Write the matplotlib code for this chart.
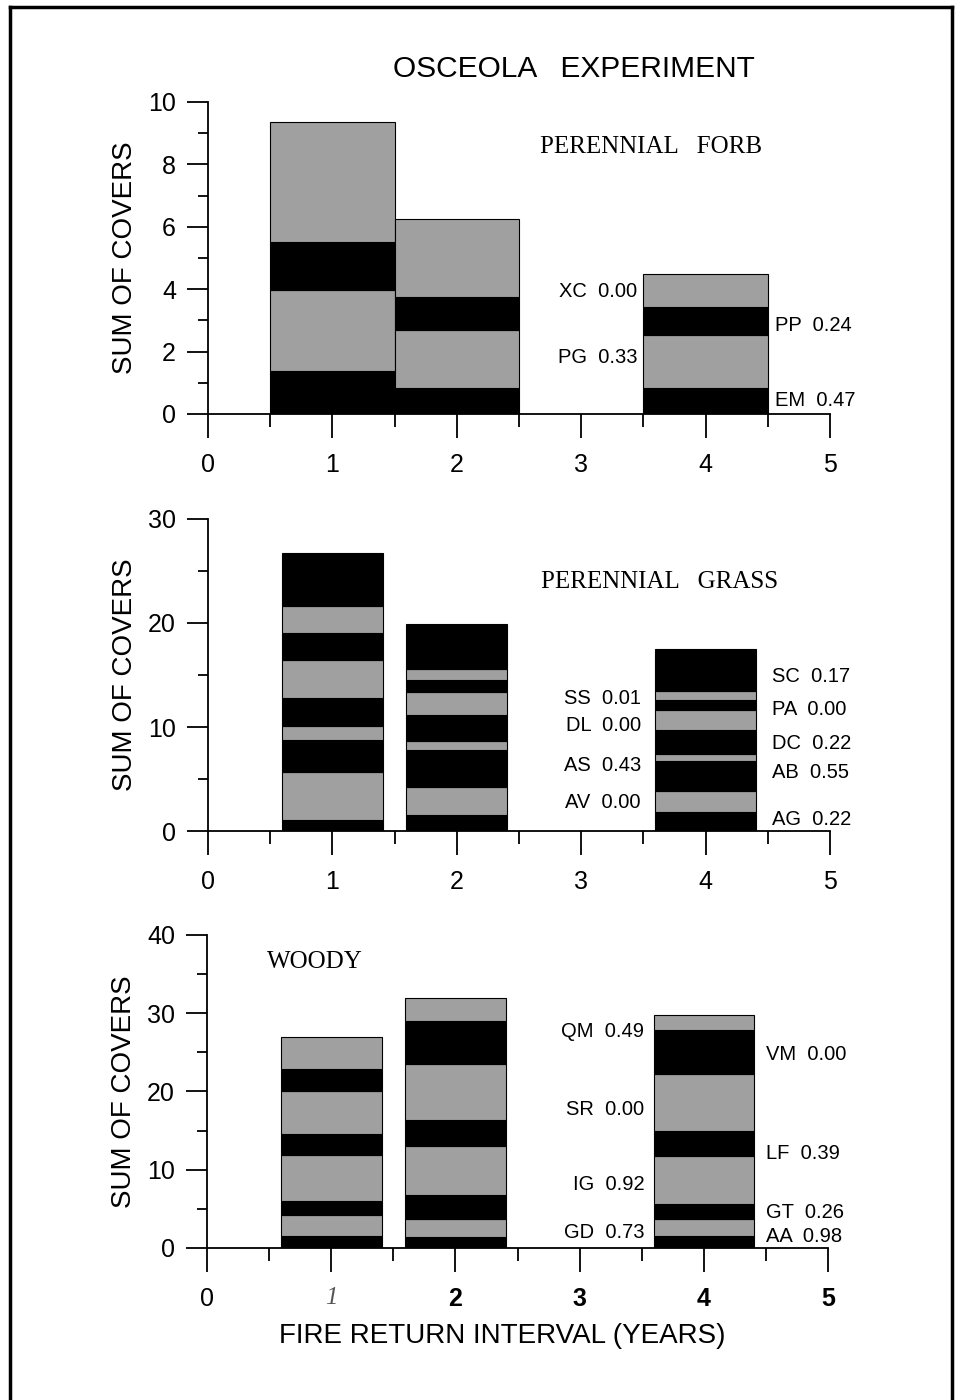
import matplotlib.pyplot as plt
from matplotlib.lines import Line2D
from matplotlib.ticker import MultipleLocator

# Годы (интервал между пожарами), для которых есть столбцы
years = [1, 2, 4]

# PERENNIAL FORB: сегменты снизу вверх для каждого года
forb_species = ['EM', 'PG', 'PP', 'XC']
forb_p = ['0.47', '0.33', '0.24', '0.00']
forb_covers = [
    [1.39, 2.59, 1.54, 3.85],   # 1 год
    [0.82, 1.86, 1.07, 2.51],   # 2 года
    [0.82, 1.70, 0.91, 1.06],   # 4 года
]

# PERENNIAL GRASS
grass_species = ['AG', 'AV', 'AB', 'AS', 'DC', 'DL', 'PA', 'SS', 'SC']
grass_p = ['0.22', '0.00', '0.55', '0.43', '0.22', '0.00', '0.00', '0.01', '0.17']
grass_covers = [
    [1.05, 4.63, 3.03, 1.38, 2.74, 3.57, 2.65, 2.55, 5.15],
    [1.53, 2.71, 3.58, 0.86, 2.43, 2.30, 1.11, 1.02, 4.41],
    [1.82, 2.01, 2.87, 0.74, 2.23, 1.92, 1.02, 0.86, 3.99],
]

# WOODY
woody_species = ['AA', 'GD', 'GT', 'IG', 'LF', 'SR', 'VM', 'QM']
woody_p = ['0.98', '0.73', '0.26', '0.92', '0.39', '0.00', '0.00', '0.49']
woody_covers = [
    [1.49, 2.77, 1.70, 5.95, 2.64, 5.54, 2.76, 4.17],
    [1.40, 2.30, 3.07, 6.21, 3.40, 7.15, 5.41, 2.97],
    [1.57, 2.13, 1.92, 6.08, 3.28, 7.28, 5.53, 2.00],
]

# Высота подписей видов (положение текста)
forb_label_y = [0.43, 1.81, 2.83, 3.92]
grass_label_y = [1.12, 2.71, 5.65, 6.32, 8.39, 10.12, 11.65, 12.70, 14.84]
woody_label_y = [1.49, 2.0, 4.47, 8.17, 12.13, 17.74, 24.68, 27.66]

GRAY = '#a0a0a0'
SANS = 'Liberation Sans'
SERIF = 'Liberation Serif'


def draw_panel(ax, covers, species, pvals, label_y, ymax, major, minor,
               width, name, name_xy, left_x, right_x):
    for x, segs in zip(years, covers):
        bottom = 0
        for i, v in enumerate(segs):
            color = 'black' if i % 2 == 0 else GRAY
            ax.bar(x, v, width=width, bottom=bottom, color=color,
                   edgecolor='black', linewidth=0.8)
            bottom += v

    for i, (sp, p, y) in enumerate(zip(species, pvals, label_y)):
        txt = sp + '  ' + p
        if i % 2 == 0:
            ax.text(right_x, y, txt, ha='left', va='center',
                    fontsize=14.5, family=SANS)
        else:
            ax.text(left_x, y, txt, ha='right', va='center',
                    fontsize=14.5, family=SANS)

    ax.text(name_xy[0], name_xy[1], name, ha='left', va='center',
            fontsize=18, family=SERIF)

    ax.set_xlim(0, 5)
    ax.set_ylim(0, ymax)
    ax.xaxis.set_major_locator(MultipleLocator(1))
    ax.xaxis.set_minor_locator(MultipleLocator(0.5))
    ax.yaxis.set_major_locator(MultipleLocator(major))
    ax.yaxis.set_minor_locator(MultipleLocator(minor))
    ax.spines['top'].set_visible(False)
    ax.spines['right'].set_visible(False)
    for s in ['left', 'bottom']:
        ax.spines[s].set_linewidth(1.3)
    ax.tick_params(axis='x', which='major', direction='out', length=17,
                   width=1.3, pad=11, labelsize=18)
    ax.tick_params(axis='x', which='minor', direction='out', length=9,
                   width=1.3)
    ax.tick_params(axis='y', which='major', direction='out', length=15,
                   width=1.3, pad=8, labelsize=18)
    ax.tick_params(axis='y', which='minor', direction='out', length=7,
                   width=1.3)
    for lab in ax.get_xticklabels() + ax.get_yticklabels():
        lab.set_family(SANS)
    ax.set_ylabel('SUM OF COVERS', fontsize=20, family=SANS)
    ax.yaxis.set_label_coords(-0.112, 0.5)


fig = plt.figure(figsize=(9.6, 14), dpi=100)

ax1 = fig.add_axes([0.2167, 0.7043, 0.648, 0.2229])
ax2 = fig.add_axes([0.2167, 0.4064, 0.648, 0.2229])
ax3 = fig.add_axes([0.2156, 0.1086, 0.647, 0.2236])

draw_panel(ax1, forb_covers, forb_species, forb_p, forb_label_y,
           10, 2, 1, 1.0, 'PERENNIAL   FORB', (2.67, 8.55), 3.45, 4.56)
draw_panel(ax2, grass_covers, grass_species, grass_p, grass_label_y,
           30, 10, 5, 0.81, 'PERENNIAL   GRASS', (2.68, 23.9), 3.48, 4.53)
draw_panel(ax3, woody_covers, woody_species, woody_p, woody_label_y,
           40, 10, 5, 0.81, 'WOODY', (0.48, 36.5), 3.52, 4.50)

# Нижняя шкала в оригинале напечатана разными начертаниями
ax3.set_xticks([0, 1, 2, 3, 4, 5])
ax3.set_xticklabels(['0', '1', '2', '3', '4', '5'])
xl = ax3.get_xticklabels()
for lab in xl:
    lab.set_family(SANS)
for lab in xl[2:]:
    lab.set_fontweight('bold')
xl[1].set_family(SERIF)
xl[1].set_style('italic')
xl[1].set_color('#555555')

fig.text(0.598, 0.951, 'OSCEOLA   EXPERIMENT', ha='center', va='center',
         fontsize=21.5, family=SANS)
fig.text(0.523, 0.0457, 'FIRE RETURN INTERVAL (YEARS)', ha='center',
         va='center', fontsize=20, family=SANS)

# Рамка вокруг рисунка (слева, сверху, справа)
fig.add_artist(Line2D([10 / 960, 10 / 960], [0, 1 - 7 / 1400],
                      color='black', linewidth=2.5))
fig.add_artist(Line2D([10 / 960, 952 / 960], [1 - 7 / 1400, 1 - 7 / 1400],
                      color='black', linewidth=2.5))
fig.add_artist(Line2D([952 / 960, 952 / 960], [0, 1 - 7 / 1400],
                      color='black', linewidth=2.5))

fig.savefig('out.png', dpi=100)
